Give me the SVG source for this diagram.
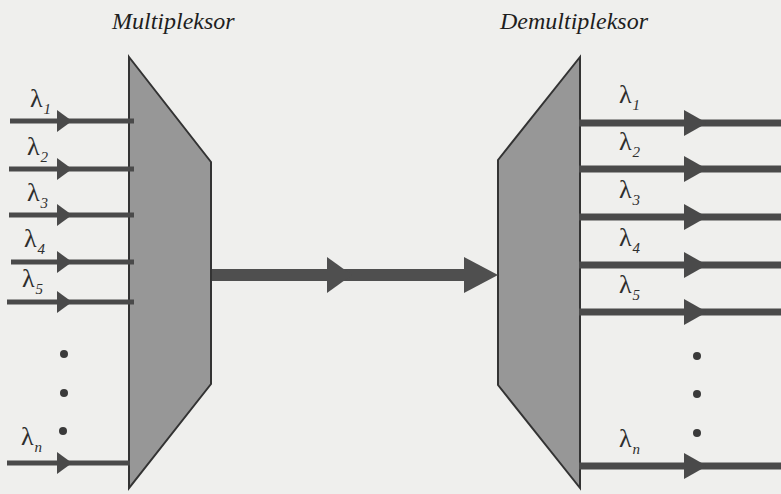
<svg xmlns="http://www.w3.org/2000/svg" width="781" height="494" viewBox="0 0 781 494">
<style>
.bg{fill:#efefed}
.dev{fill:#979797;stroke:#333;stroke-width:2}
.in{fill:none;stroke:#4a4a4a;stroke-width:5}
.out{fill:none;stroke:#4a4a4a;stroke-width:7}
.trunk{fill:none;stroke:#4f4f4f;stroke-width:12}
.title{font-family:'Liberation Serif','Times New Roman',Times,serif;font-style:italic;font-size:24px;fill:#1e1e1e}
.lam{font-family:'Liberation Serif','Times New Roman',Times,serif;font-size:26px;fill:#2e2e2e}
.sub{font-style:italic;font-size:15px}
.dot{fill:#3a3a3a}
</style>
<defs>
<marker id="ahIn" markerUnits="userSpaceOnUse" markerWidth="16" markerHeight="22" refX="15" refY="11" orient="auto" overflow="visible">
<path d="M0 0 L15 11 L0 22 Z" fill="#4a4a4a"/>
</marker>
<marker id="ahOut" markerUnits="userSpaceOnUse" markerWidth="24" markerHeight="26" refX="23" refY="13" orient="auto" overflow="visible">
<path d="M0 0 L23 13 L0 26 Z" fill="#4a4a4a"/>
</marker>
<marker id="ahTrunk" markerUnits="userSpaceOnUse" markerWidth="26" markerHeight="36" refX="25" refY="18" orient="auto" overflow="visible">
<path d="M0 0 L25 18 L0 36 Z" fill="#4f4f4f"/>
</marker>
</defs>
<rect class="bg" x="0" y="0" width="781" height="494"/>

<g id="mux">
<polygon class="dev" points="129,57 211,162 211,384 129,488"/>
<text class="title" x="112" y="29">Multipleksor</text>
</g>
<g id="demux">
<polygon class="dev" points="580,57 580,488 498,385 498,160"/>
<text class="title" x="500" y="29">Demultipleksor</text>
</g>

<g id="connectors">
<path class="in" d="M10 121 H72 H134" marker-mid="url(#ahIn)"/>
<path class="in" d="M9 169 H72 H134" marker-mid="url(#ahIn)"/>
<path class="in" d="M9 215 H72 H134" marker-mid="url(#ahIn)"/>
<path class="in" d="M11 262 H72 H134" marker-mid="url(#ahIn)"/>
<path class="in" d="M7 302 H72 H134" marker-mid="url(#ahIn)"/>
<path class="in" d="M7 463 H72 H130" marker-mid="url(#ahIn)"/>

<path class="trunk" d="M212 275 H352 H468" marker-mid="url(#ahTrunk)"/>
<path d="M464 257 L498 275 L464 293 Z" fill="#4f4f4f"/>

<path class="out" d="M579 123 H707 H781" marker-mid="url(#ahOut)"/>
<path class="out" d="M579 169 H707 H781" marker-mid="url(#ahOut)"/>
<path class="out" d="M579 217 H707 H781" marker-mid="url(#ahOut)"/>
<path class="out" d="M579 265 H707 H781" marker-mid="url(#ahOut)"/>
<path class="out" d="M579 312 H707 H781" marker-mid="url(#ahOut)"/>
<path class="out" d="M579 466 H707 H781" marker-mid="url(#ahOut)"/>
</g>

<g id="inputLabels">
<text class="lam" x="30" y="107">λ<tspan class="sub" dx="1" dy="7">1</tspan></text>
<text class="lam" x="27" y="155">λ<tspan class="sub" dx="1" dy="7">2</tspan></text>
<text class="lam" x="27" y="201">λ<tspan class="sub" dx="1" dy="7">3</tspan></text>
<text class="lam" x="24" y="247">λ<tspan class="sub" dx="1" dy="7">4</tspan></text>
<text class="lam" x="22" y="287">λ<tspan class="sub" dx="1" dy="7">5</tspan></text>
<text class="lam" x="21" y="445">λ<tspan class="sub" dx="1" dy="7">n</tspan></text>
<circle class="dot" cx="64" cy="354" r="4"/>
<circle class="dot" cx="64" cy="393" r="4"/>
<circle class="dot" cx="63" cy="431" r="4"/>
</g>

<g id="outputLabels">
<text class="lam" x="619" y="103">λ<tspan class="sub" dx="1" dy="7">1</tspan></text>
<text class="lam" x="619" y="150">λ<tspan class="sub" dx="1" dy="7">2</tspan></text>
<text class="lam" x="619" y="198">λ<tspan class="sub" dx="1" dy="7">3</tspan></text>
<text class="lam" x="619" y="246">λ<tspan class="sub" dx="1" dy="7">4</tspan></text>
<text class="lam" x="619" y="293">λ<tspan class="sub" dx="1" dy="7">5</tspan></text>
<text class="lam" x="619" y="447">λ<tspan class="sub" dx="1" dy="7">n</tspan></text>
<circle class="dot" cx="697" cy="356" r="4"/>
<circle class="dot" cx="697" cy="394" r="4"/>
<circle class="dot" cx="697" cy="433" r="4"/>
</g>
</svg>
